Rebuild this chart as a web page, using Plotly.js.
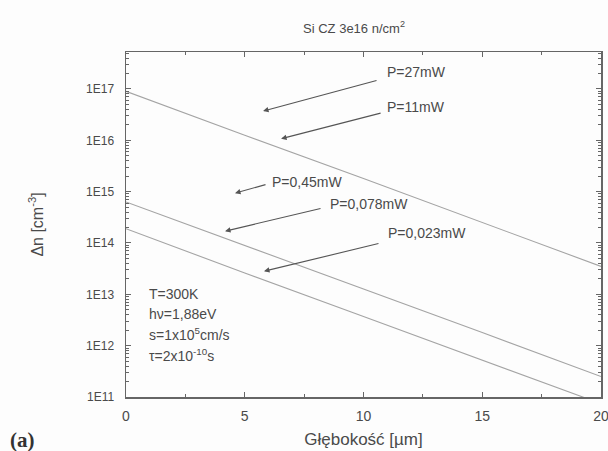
<!DOCTYPE html>
<html>
<head>
<meta charset="utf-8">
<script src="https://cdn.plot.ly/plotly-3.0.1.min.js"></script>
<style>html,body{margin:0;padding:0;background:#fdfdfd;}#chart{width:608px;height:451px;}</style>
</head>
<body>
<div id="chart"></div>
<script>
// Depth [µm]
const depth = [0, 5, 10, 15, 20];
// Excess carrier density Δn [cm^-3] (visible curves)
const dn_11mW   = [9.0e16, 1.25e16, 1.8e15, 2.5e14, 3.5e13];
const dn_0078mW = [6.3e14, 9.0e13, 1.25e13, 1.8e12, 2.5e11];
const dn_0023mW = [1.9e14, 2.6e13, 3.7e12, 5.2e11, 7.4e10];

const seriesNames = ['P=11mW', 'P=0,078mW', 'P=0,023mW'];
const xTickVals = [0, 5, 10, 15, 20];
const yTickVals = [1e11, 1e12, 1e13, 1e14, 1e15, 1e16, 1e17];
const yTickText = ['1E11', '1E12', '1E13', '1E14', '1E15', '1E16', '1E17'];

// minor tick positions on the log axis (2..9 in each decade)
const yMinorVals = [];
for (let e = 11; e <= 17; e++) for (let m = 2; m <= 9; m++) { if (m * Math.pow(10, e) < 5.3e17) yMinorVals.push(m * Math.pow(10, e)); }

const lineColor = '#a4a4a4';
const axisColor = '#666666';
const textColor = '#4a4a4a';
const font = 'Liberation Sans, Arial, sans-serif';

const traces = [dn_11mW, dn_0078mW, dn_0023mW].map((ys, i) => ({
  x: depth, y: ys, type: 'scatter', mode: 'lines', name: seriesNames[i],
  line: {color: lineColor, width: 1.1}, hoverinfo: 'skip'
}));

function arrow(x, y, ax, ay) {
  return {x: x, y: y, xref: 'x', yref: 'y', ax: ax, ay: ay, axref: 'pixel', ayref: 'pixel',
    showarrow: true, arrowhead: 2, arrowsize: 1, arrowwidth: 1.1, arrowcolor: '#555', text: ''};
}
function label(x, y, txt) {
  return {x: x, y: y, xref: 'x', yref: 'y', text: txt, showarrow: false,
    xanchor: 'left', yanchor: 'middle', font: {family: font, size: 14, color: textColor}};
}
function note(py, txt) {
  return {x: 0.044, y: (397 - py) / 345, xref: 'paper', yref: 'paper', text: txt, showarrow: false,
    xanchor: 'left', yanchor: 'middle', font: {family: font, size: 14, color: textColor}};
}

const annotations = [
  arrow(5.77, 16.57, 115, -31), label(10.9, 17.33, 'P=27mW'),
  arrow(6.53, 16.03, 101, -26), label(10.9, 16.65, 'P=11mW'),
  arrow(4.59, 14.97, 32, -9),   label(6.06, 15.19, 'P=0,45mW'),
  arrow(4.17, 14.23, 97, -23),  label(8.5, 14.76, 'P=0,078mW'),
  arrow(5.81, 13.45, 116, -28), label(10.95, 14.19, 'P=0,023mW'),
  note(294, 'T=300K'),
  note(314, 'h\u03bd=1,88eV'),
  note(334, 's=1x10<sup>5</sup>cm/s'),
  note(355, '\u03c4=2x10<sup>-10</sup>s'),
  {x: -0.218, y: -0.125, xref: 'paper', yref: 'paper', text: '<b>(a)</b>', showarrow: false,
   xanchor: 'center', yanchor: 'middle', font: {family: 'Liberation Serif, Times New Roman, serif', size: 21, color: '#333'}}
];

const layout = {
  width: 608, height: 451,
  margin: {l: 126, r: 7, t: 52, b: 54},
  paper_bgcolor: '#fdfdfd', plot_bgcolor: '#fdfdfd',
  showlegend: false,
  font: {family: font, size: 12, color: textColor},
  title: {text: 'Si CZ 3e16 n/cm<sup>2</sup>', x: 0.48, xref: 'paper', y: 0.938, yref: 'container',
          xanchor: 'center', yanchor: 'middle', font: {family: font, size: 13, color: textColor}},
  xaxis: {
    range: [0, 20], tickmode: 'array', tickvals: xTickVals,
    ticks: 'inside', ticklen: 5, tickcolor: axisColor, mirror: 'ticks',
    showline: true, linecolor: axisColor, linewidth: 1.5, showgrid: false, zeroline: false,
    ticklabelstandoff: 6, ticklabeloverflow: 'allow',
    minor: {tickmode: 'array', tickvals: [2.5, 7.5, 12.5, 17.5], ticks: 'inside', ticklen: 3, tickcolor: axisColor, showgrid: false},
    tickfont: {family: font, size: 14, color: textColor},
    title: {text: 'G\u0142\u0119boko\u015b\u0107 [\u00b5m]', standoff: 10, font: {family: font, size: 17, color: textColor}}
  },
  yaxis: {
    type: 'log', range: [11, 17.72], tickmode: 'array', tickvals: yTickVals, ticktext: yTickText,
    ticks: 'inside', ticklen: 5, tickcolor: axisColor, mirror: 'ticks',
    showline: true, linecolor: axisColor, linewidth: 1.5, showgrid: false, zeroline: false,
    ticklabelstandoff: 8,
    minor: {tickmode: 'array', tickvals: yMinorVals, ticks: 'inside', ticklen: 3, tickcolor: axisColor, showgrid: false},
    tickfont: {family: font, size: 12, color: textColor},
    title: {text: '\u0394n [cm<sup>-3</sup>]', standoff: 38, font: {family: font, size: 16, color: textColor}}
  },
  annotations: annotations
};

Plotly.newPlot('chart', traces, layout, {staticPlot: true, displayModeBar: false});
</script>
</body>
</html>
